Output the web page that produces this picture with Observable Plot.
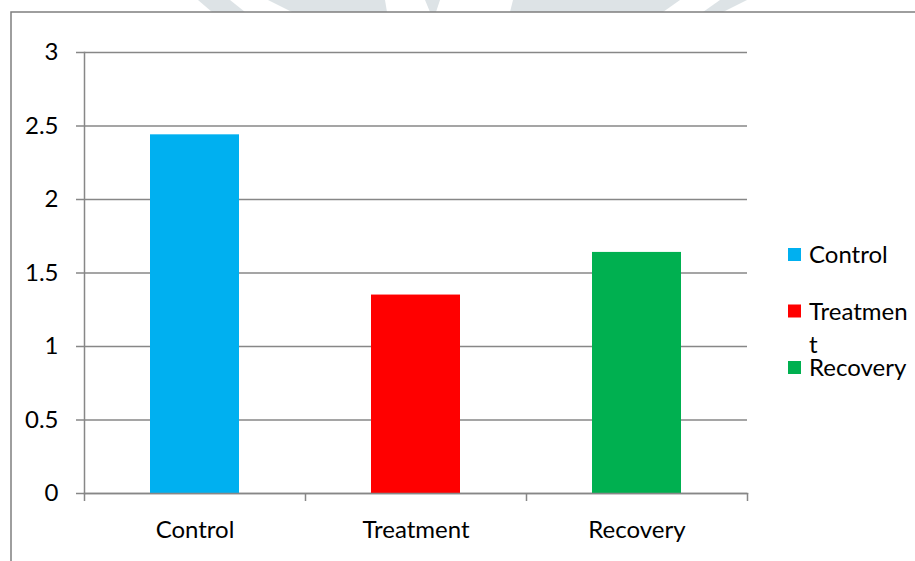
<!DOCTYPE html>
<html>
<head>
<meta charset="utf-8">
<script src="https://cdn.jsdelivr.net/npm/d3@7"></script>
<script src="https://cdn.jsdelivr.net/npm/@observablehq/plot@0.6"></script>
<style>
  html, body { margin: 0; padding: 0; background: #fff; }
  #chart svg { display: block; }
</style>
</head>
<body>
<div id="chart"></div>
<script>
// Mean values per group
const categories = ["Control", "Treatment", "Recovery"];
const values = [2.44, 1.35, 1.64];
const colors = ["#00b0f0", "#ff0000", "#00b050"];
const yTicks = [0, 0.5, 1, 1.5, 2, 2.5, 3];

const data = categories.map((category, index) => ({category, index, value: values[index]}));

const W = 915, H = 561;
const axisGrey = "#878787";
const font = "Lato, 'Open Sans', sans-serif";
const fontSize = 24;

const chart = Plot.plot({
  width: W,
  height: H,
  marginLeft: 84,
  marginRight: 168,
  marginTop: 52,
  marginBottom: 68,
  style: {fontFamily: font, fontSize: fontSize + "px", color: "#000", background: "transparent", overflow: "visible"},
  x: {type: "linear", domain: [0, categories.length], axis: null, label: null},
  y: {domain: [0, 3], axis: null, label: null},
  color: {domain: categories, range: colors},
  marks: [
    Plot.gridY(yTicks, {stroke: axisGrey, strokeOpacity: 1, strokeWidth: 1.5}),
    Plot.rectY(data, {x1: "index", x2: d => d.index + 1, y: "value", fill: "category", insetLeft: 66, insetRight: 66}),
    Plot.frame({anchor: "left", stroke: axisGrey, strokeWidth: 1.5}),
    Plot.frame({anchor: "bottom", stroke: axisGrey, strokeWidth: 1.5}),
    Plot.axisY(yTicks, {label: null, tickSize: 8, tickPadding: 18, tickFormat: d => String(d), stroke: axisGrey, strokeWidth: 1.5, fill: "#000"}),
    // category boundary ticks
    Plot.axisX(d3.range(categories.length + 1), {label: null, tickSize: 8, tickFormat: () => "", stroke: axisGrey, strokeWidth: 1.5}),
    // category names centred in each band
    Plot.axisX(categories.map((_, i) => i + 0.5), {label: null, tickSize: 0, tickPadding: 27, tickFormat: d => categories[Math.floor(d)], fill: "#000"})
  ]
});

document.getElementById("chart").appendChild(chart);

const svg = d3.select(chart);

// faint background shapes along the top edge
const shapes = [
  [[198, 0], [230, 0], [245, 12], [212, 12]],
  [[268, 0], [385, 0], [387, 12], [292, 12]],
  [[425, 0], [440, 0], [436, 12], [430, 12]],
  [[513, 0], [680, 0], [663, 12], [510, 12]],
  [[720, 0], [747, 0], [723, 12], [703, 12]]
];
const bg = svg.insert("g", ":first-child");
bg.selectAll("polygon").data(shapes).join("polygon")
  .attr("points", d => d.map(p => p.join(",")).join(" "))
  .attr("fill", "#dde3e6");

// outer frame
svg.append("path")
  .attr("d", `M11,${H} V12 H${W}`)
  .attr("fill", "none")
  .attr("stroke", "#7f7f7f")
  .attr("stroke-width", 1.5);

// legend on the right
const legend = svg.append("g")
  .attr("font-family", font)
  .attr("font-size", fontSize)
  .attr("text-anchor", "start");
const swatchX = 788, swatchSize = 13, textX = 809, entryTop = 248, entryStep = 56.5, lineHeight = 33;
const maxWidth = 102;

function wrapChars(str) {
  const probe = legend.append("text").attr("visibility", "hidden");
  const lines = [];
  let line = "";
  for (const ch of str) {
    probe.text(line + ch);
    if (line && probe.node().getComputedTextLength() > maxWidth) {
      lines.push(line);
      line = ch;
    } else {
      line += ch;
    }
  }
  lines.push(line);
  probe.remove();
  return lines;
}

categories.forEach((c, i) => {
  const top = entryTop + i * entryStep;
  legend.append("rect")
    .attr("x", swatchX).attr("y", top)
    .attr("width", swatchSize).attr("height", swatchSize)
    .attr("fill", colors[i]);
  const t = legend.append("text").attr("x", textX).attr("y", top + 15).attr("fill", "#000");
  wrapChars(c).forEach((ln, j) => {
    t.append("tspan").attr("x", textX).attr("y", top + 15 + j * lineHeight).text(ln);
  });
});
</script>
</body>
</html>
